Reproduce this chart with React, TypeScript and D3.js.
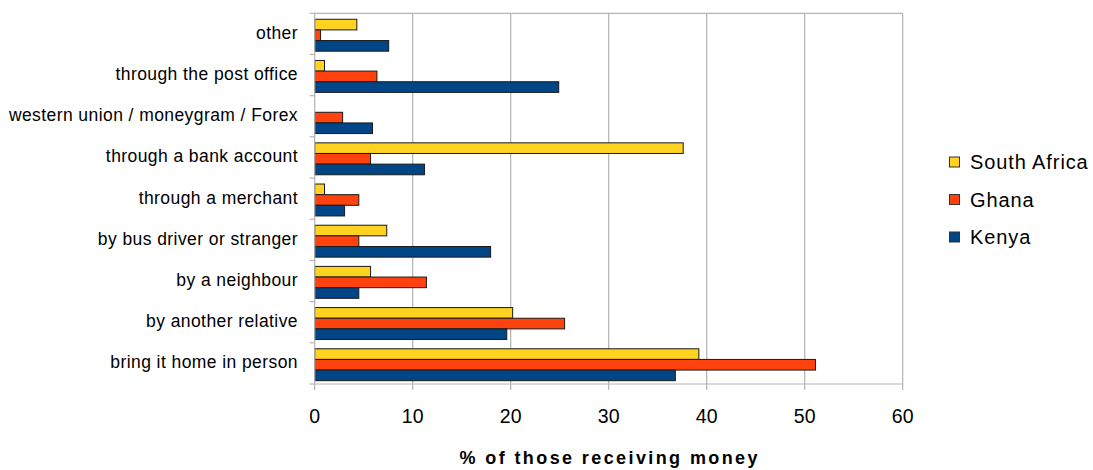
import React, { useEffect, useRef } from "react";
import * as d3 from "d3";

const categories = [
  "other",
  "through the post office",
  "western union / moneygram / Forex",
  "through a bank account",
  "through a merchant",
  "by bus driver or stranger",
  "by a neighbour",
  "by another relative",
  "bring it home in person",
];
const seriesNames = ["South Africa", "Ghana", "Kenya"];
const southAfrica = [4.3, 1.0, 0, 37.6, 1.0, 7.35, 5.7, 20.2, 39.2];
const ghana = [0.6, 6.35, 2.85, 5.7, 4.5, 4.5, 11.4, 25.5, 51.1];
const kenya = [7.55, 24.9, 5.9, 11.2, 3.05, 17.95, 4.5, 19.6, 36.8];
const seriesColors = ["#ffd320", "#ff420e", "#004586"];
const xTicks = [0, 10, 20, 30, 40, 50, 60];
const axisTitle = "% of those receiving money";

export default function App() {
  const ref = useRef<SVGSVGElement>(null);
  useEffect(() => {
    const svg = d3.select(ref.current);
    svg.selectAll("*").remove();
    const W = 1093, H = 470;
    const left = 314.7, right = 902.7, top = 13.3, bottom = 384;
    const font = "'Liberation Sans', Arial, sans-serif";
    const x = d3.scaleLinear().domain([0, 60]).range([left, right]);
    const y = d3.scaleBand<string>().domain(categories).range([top, bottom]).padding(0);
    const bw = y.bandwidth();
    const inner = d3.scaleBand<string>().domain(seriesNames).range([bw * 0.145, bw * 0.92]).padding(0);
    const data = [southAfrica, ghana, kenya];

    svg.append("rect").attr("width", W).attr("height", H).attr("fill", "#fff");

    // gridlines
    svg.append("g").selectAll("line").data(xTicks.slice(1)).join("line")
      .attr("x1", d => x(d)).attr("x2", d => x(d))
      .attr("y1", top).attr("y2", bottom)
      .attr("stroke", "#b3b3b3").attr("stroke-width", 1.2);
    svg.append("line").attr("x1", left).attr("x2", right).attr("y1", top).attr("y2", top)
      .attr("stroke", "#b3b3b3").attr("stroke-width", 1.2);

    // bars
    const g = svg.append("g");
    seriesNames.forEach((s, si) => {
      g.append("g").selectAll("rect").data(categories).join("rect")
        .filter((_, i) => data[si][i] > 0)
        .attr("x", x(0))
        .attr("y", c => (y(c) as number) + (inner(s) as number))
        .attr("width", (c) => x(data[si][categories.indexOf(c)]) - x(0))
        .attr("height", inner.bandwidth())
        .attr("fill", seriesColors[si])
        .attr("stroke", "#1a1a1a").attr("stroke-width", 1);
    });

    // axes lines
    svg.append("line").attr("x1", left).attr("x2", left).attr("y1", top).attr("y2", bottom)
      .attr("stroke", "#b3b3b3").attr("stroke-width", 1.2);
    svg.append("line").attr("x1", left).attr("x2", right).attr("y1", bottom).attr("y2", bottom)
      .attr("stroke", "#b3b3b3").attr("stroke-width", 1.2);
    // x ticks
    svg.append("g").selectAll("line").data(xTicks).join("line")
      .attr("x1", d => x(d)).attr("x2", d => x(d)).attr("y1", bottom).attr("y2", bottom + 6)
      .attr("stroke", "#b3b3b3").attr("stroke-width", 1.2);
    // y ticks at band boundaries
    const bounds = categories.map(c => y(c) as number).concat([bottom]);
    svg.append("g").selectAll("line").data(bounds).join("line")
      .attr("x1", left - 5).attr("x2", left).attr("y1", d => d).attr("y2", d => d)
      .attr("stroke", "#b3b3b3").attr("stroke-width", 1.2);

    // x tick labels
    svg.append("g").selectAll("text").data(xTicks).join("text")
      .attr("x", d => x(d)).attr("y", 422.5)
      .attr("text-anchor", "middle")
      .attr("font-family", font).attr("font-size", 19.5).attr("fill", "#000")
      .text(d => String(d));

    // category labels
    svg.append("g").selectAll("text").data(categories).join("text")
      .attr("x", 298).attr("y", c => (y(c) as number) + bw / 2 + 5)
      .attr("text-anchor", "end")
      .attr("font-family", font).attr("font-size", 17.5).attr("letter-spacing", 0.42).attr("fill", "#000")
      .text(c => c);

    // axis title
    svg.append("text").attr("x", (left + right) / 2 + 1).attr("y", 464)
      .attr("text-anchor", "middle")
      .attr("font-family", font).attr("font-size", 18).attr("font-weight", "bold")
      .attr("letter-spacing", 2.4).attr("fill", "#000")
      .text(axisTitle);

    // legend
    const legendY = [162, 199.5, 237];
    const lg = svg.append("g");
    seriesNames.forEach((s, i) => {
      lg.append("rect").attr("x", 949.5).attr("y", legendY[i] - 5).attr("width", 10).attr("height", 10)
        .attr("fill", seriesColors[i]).attr("stroke", "#333").attr("stroke-width", 1);
      lg.append("text").attr("x", 970).attr("y", legendY[i] + 7)
        .attr("font-family", font).attr("font-size", 20).attr("letter-spacing", 0.9).attr("fill", "#000")
        .text(s);
    });
  }, []);
  return <svg ref={ref} width={1093} height={470} style={{ display: "block", position: "absolute", left: 0, top: 0 }} />;
}
